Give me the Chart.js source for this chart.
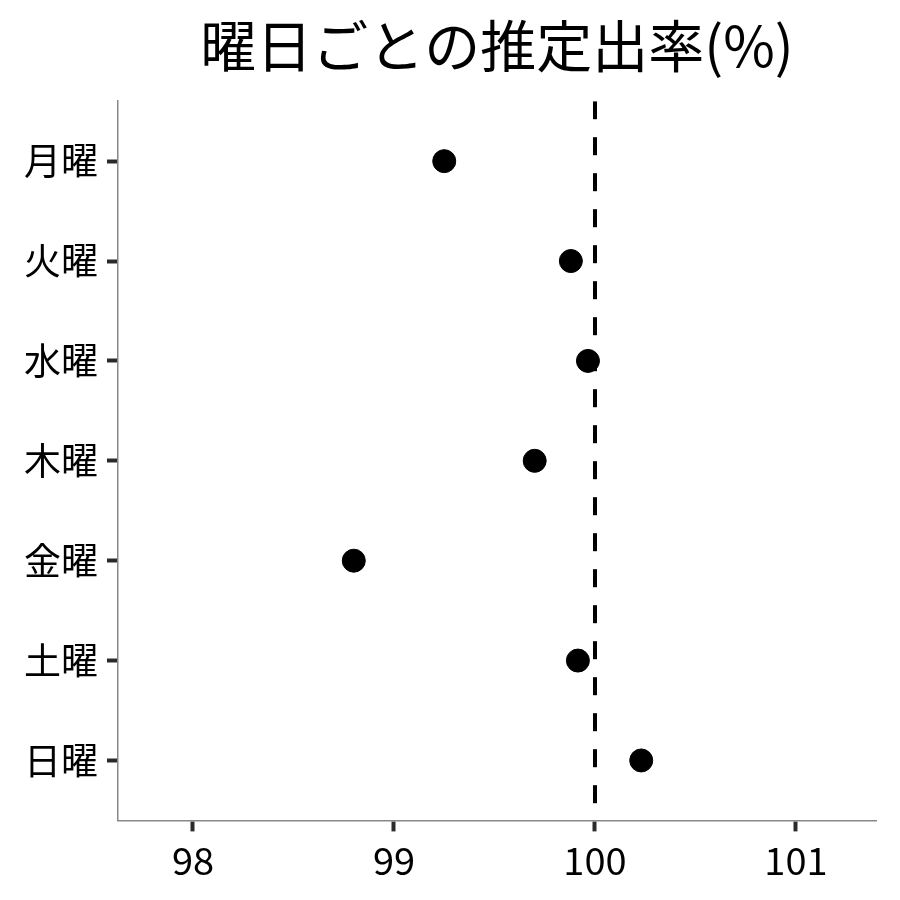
<!DOCTYPE html>
<html>
<head>
<meta charset="utf-8">
<script src="https://cdn.jsdelivr.net/npm/chart.js@4"></script>
<style>
  body { margin: 0; background: #fff; }
</style>
</head>
<body>
<canvas id="grafico" width="900" height="900"></canvas>
<script>
// data
var dias = ['月曜', '火曜', '水曜', '木曜', '金曜', '土曜', '日曜'];
var taxas = [99.25, 99.88, 99.965, 99.70, 98.80, 99.915, 100.23];
var ticksX = [98, 99, 100, 101];
var linhaRef = 100;

var pontos = [];
for (var i = 0; i < dias.length; i++) {
    pontos.push({ x: taxas[i], y: i + 1 });
}

var fonte = "'Noto Sans CJK JP', 'Noto Sans', sans-serif";

new Chart(document.getElementById('grafico'), {
    type: 'scatter',
    data: {
        datasets: [{
            type: 'line',
            data: [{ x: linhaRef, y: 0.4 }, { x: linhaRef, y: 7.6 }],
            borderColor: '#000',
            borderWidth: 4,
            borderDash: [18, 18],
            pointRadius: 0,
            fill: false,
            order: 2
        }, {
            data: pontos,
            backgroundColor: '#000',
            borderColor: '#000',
            pointRadius: 11.5,
            pointHoverRadius: 11.5,
            order: 1
        }]
    },
    options: {
        responsive: false,
        animation: false,
        layout: { padding: { top: 12, right: 24, bottom: 11, left: 15 } },
        plugins: {
            legend: { display: false },
            tooltip: { enabled: false },
            title: {
                display: true,
                text: '曜日ごとの推定出率(%)',
                color: '#000',
                fullSize: false,
                font: { family: fonte, size: 56, weight: 'normal' },
                padding: { top: 0, bottom: 22 }
            }
        },
        scales: {
            x: {
                type: 'linear',
                min: 97.627,
                max: 101.398,
                afterBuildTicks: function (eixo) {
                    eixo.ticks = ticksX.map(function (v) { return { value: v }; });
                },
                grid: {
                    drawOnChartArea: false,
                    drawTicks: true,
                    tickLength: 11,
                    tickWidth: 4,
                    tickColor: '#2a2a2a'
                },
                border: { display: true, color: '#888', width: 1.5 },
                ticks: {
                    color: '#000',
                    padding: 6,
                    maxRotation: 0,
                    font: { family: fonte, size: 38 }
                }
            },
            y: {
                type: 'linear',
                min: 0.4,
                max: 7.6,
                reverse: true,
                afterBuildTicks: function (eixo) {
                    eixo.ticks = dias.map(function (d, i) { return { value: i + 1 }; });
                },
                grid: {
                    drawOnChartArea: false,
                    drawTicks: true,
                    tickLength: 11,
                    tickWidth: 4,
                    tickColor: '#2a2a2a'
                },
                border: { display: true, color: '#888', width: 1.5 },
                ticks: {
                    color: '#000',
                    padding: 9,
                    font: { family: fonte, size: 37 },
                    callback: function (v) { return dias[Math.round(v) - 1]; }
                }
            }
        }
    }
});
</script>
</body>
</html>
